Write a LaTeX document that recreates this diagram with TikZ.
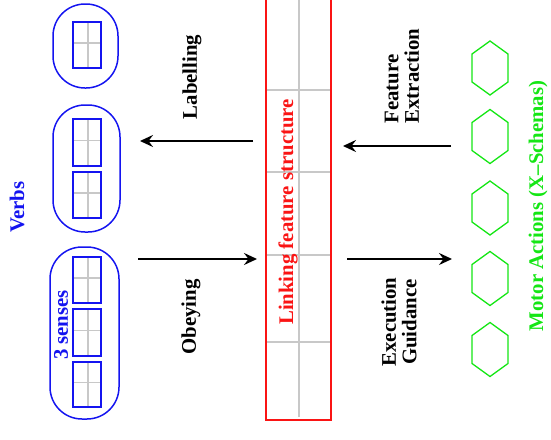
\documentclass[tikz,border=0pt]{standalone}
\usepackage{fontspec}
\setmainfont{Liberation Serif}
\usetikzlibrary{arrows.meta}
\definecolor{vblue}{RGB}{20,20,240}
\definecolor{lred}{RGB}{250,20,20}
\definecolor{mgreen}{RGB}{20,230,20}
\definecolor{lgray}{RGB}{200,200,200}
\begin{document}
\begin{tikzpicture}[x=1pt,y=-1pt,
  lbl/.style={rotate=90,inner sep=0pt,font=\fontsize{20.8}{20.5}\selectfont\bfseries},
  oval/.style={draw=vblue,line width=1.5pt,rounded corners=32pt},
  frame/.style={draw=vblue,line width=1.8pt},
  grid/.style={draw=lgray,line width=1.1pt},
  hexa/.style={draw=mgreen,line width=1.3pt,line join=miter},
  arr/.style={line width=2.7pt,-{Stealth[length=13pt,width=12pt,inset=4.5pt]}}]
\useasboundingbox (0,0) rectangle (551,439);
\clip (0,0) rectangle (551,439);

% ---- verb ovals
\draw[oval] (53,4) rectangle (118,88);
\draw[oval] (53,105) rectangle (120,232);
\draw[oval] (50,247) rectangle (119,419);

% ---- feature frames inside ovals
\foreach \t/\b in {22/68,119/166,172/218,257/303,309/356,362/407}{
  \draw[grid] (88,\t) -- (88,\b);
  \draw[grid] (73,{(\t+\b)/2-2}) -- (101,{(\t+\b)/2-2});
  \draw[frame] (73,\t) rectangle (101,\b);
}

\node[lbl,text=vblue] (verbs) at (17,207) {Verbs};
\node[lbl,text=vblue] (senses) at (61,325) {3 senses};

% ---- linking feature structure
\foreach \y in {90,172,255,342}{\draw[grid] (266,\y) -- (331,\y);}
\draw[grid] (299,-5) -- (299,417);
\draw[draw=lred,line width=1.5pt] (266,-5) rectangle (331,420);
\node[lbl,text=lred] (lfs) at (288,212) {Linking feature structure};

% ---- motor action hexagons
\foreach \c [count=\i] in {68,136.5,208,278.5,349.5}{
  \draw[hexa] (490,\c-27) -- (508,\c-14) -- (508,\c+14) -- (490,\c+27)
    -- (472,\c+14) -- (472,\c-14) -- cycle;
}
\node[lbl,text=mgreen] (motor) at (538,206) {Motor Actions (X–Schemas)};

% ---- arrows
\coordinate (labS) at (253,141); \coordinate (labE) at (140,141);
\coordinate (obS) at (138,259);  \coordinate (obE) at (257,259);
\coordinate (feS) at (451,146);  \coordinate (feE) at (343,146);
\coordinate (exS) at (347,259);  \coordinate (exE) at (452,259);
\draw[arr] (labS) -- (labE);
\draw[arr] (obS) -- (obE);
\draw[arr] (feS) -- (feE);
\draw[arr] (exS) -- (exE);

\node[lbl] (labelling) at (192,77) {Labelling};
\node[lbl] (obeying) at (191,317) {Obeying};
\node[lbl,align=left] (featex) at (402,76) {Feature\\Extraction};
\node[lbl,align=center] (execg) at (399,322) {Execution\\Guidance};
\end{tikzpicture}
\end{document}
